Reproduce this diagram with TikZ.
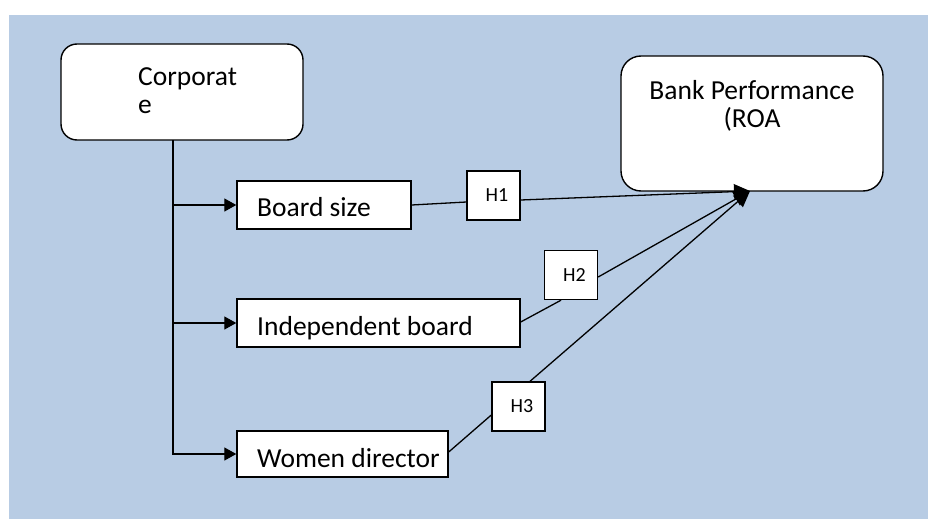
\documentclass[tikz,border=0pt]{standalone}
\usepackage{fontspec}
\setmainfont{Carlito}
\usetikzlibrary{arrows.meta,calc}
\definecolor{bgblue}{HTML}{B8CCE4}
\tikzset{
  box/.style={draw=black, line width=1.4pt, fill=white, inner sep=0pt},
  rbox/.style={box, rounded corners=16pt},
  hbox/.style={box, minimum width=53pt, minimum height=49pt, font=\fontsize{20}{23}\selectfont},
  txt/.style={inner sep=0pt, font=\fontsize{27.5}{33}\selectfont},
  conn/.style={line width=1.3pt, draw=black},
  arr/.style={conn, -{Triangle[length=12pt,width=13pt]}},
  bigarr/.style={conn, -{Triangle[length=16pt,width=15pt]}}
}
\begin{document}
\begin{tikzpicture}[x=1pt, y=-1pt]
\useasboundingbox (0,0) rectangle (928,519);
\fill[white] (0,0) rectangle (928,519);
\fill[bgblue] (9,15) rectangle (928,519);

% main boxes
\node[rbox, minimum width=242pt, minimum height=96pt] (corp) at (182,92) {};
\node[txt, anchor=base west] (corpA) at (138,85) {Corporat};
\node[txt, anchor=base west] (corpB) at (138,113) {e};

\node[box, rounded corners=20pt, minimum width=262pt, minimum height=135pt] (bank) at (752,123.5) {};
\node[txt, anchor=base] (bankA) at (752,99) {Bank Performance};
\node[txt, anchor=base] (bankB) at (752,127) {(ROA};

\node[box, minimum width=174pt, minimum height=48pt] (bs) at (324,205) {};
\node[txt, anchor=base west] (bst) at (257,216) {Board size};

\node[box, minimum width=283pt, minimum height=48pt] (ib) at (378.5,323) {};
\node[txt, anchor=base west] (ibt) at (257,335) {Independent board};

\node[box, minimum width=211pt, minimum height=46pt] (wd) at (342.5,454) {};
\node[txt, anchor=base west] (wdt) at (257,467) {Women director};

% hypothesis boxes
\node[hbox] (h1) at (493.5,195.5) {\hspace*{7pt}H1};
\node[hbox] (h2) at (571,275) {\hspace*{7pt}H2};
\node[hbox] (h3) at (518.5,406.5) {\hspace*{7pt}H3};

\coordinate (tip) at (750,191);
\coordinate (trunk) at (173,140);

% trunk and branches
\draw[arr] (trunk) |- (wd.west);
\draw[arr] (trunk |- bs.west) -- (bs.west);
\draw[arr] (trunk |- ib.west) -- (ib.west);

% paths to performance
\draw[conn] (bs.east) -- ($(h1.west)+(0,6.5)$);
\draw[bigarr] ($(h1.east)+(0,4.5)$) -- (tip);

\draw[conn] ($(ib.east)+(0,-1)$) -- ($(h2.south)+(-10,0)$);
\draw[bigarr] ($(h2.east)+(0,2)$) -- (tip);

\draw[conn] ($(wd.east)+(0,-2)$) -- ($(h3.west)+(0,8.5)$);
\draw[bigarr] ($(h3.north)+(11.5,0)$) -- (tip);
\end{tikzpicture}
\end{document}
